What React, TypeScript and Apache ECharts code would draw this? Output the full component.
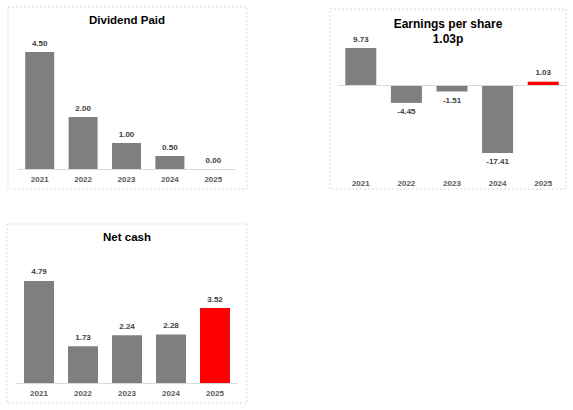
import React, { useEffect, useRef } from "react";
import * as echarts from "echarts";

const years = ["2021", "2022", "2023", "2024", "2025"];
const dividendPaid = [4.5, 2.0, 1.0, 0.5, 0.0];
const earningsPerShare = [9.73, -4.45, -1.51, -17.41, 1.03];
const netCash = [4.79, 1.73, 2.24, 2.28, 3.52];
const epsTitle = "Earnings per share\n1.03p";
const highlightYear = "2025";

const GREY = "#7f7f7f";
const RED = "#ff0000";
const FONT = "'Liberation Sans', Arial, sans-serif";

const barItems = (values: number[], highlight: boolean) =>
  values.map((v, i) => ({
    value: v,
    itemStyle: { color: highlight && years[i] === highlightYear ? RED : GREY },
    label: { position: v < 0 ? "bottom" : "top" },
  }));

const App: React.FC = () => {
  const chartRef = useRef<HTMLDivElement>(null);

  useEffect(() => {
    if (!chartRef.current) return;
    const chart = echarts.init(chartRef.current, undefined, { renderer: "svg" });

    const xAxisBase = (gridIndex: number, margin: number, showLine: boolean) => ({
      type: "category",
      gridIndex,
      data: years,
      axisTick: { show: false },
      axisLine: { show: showLine, lineStyle: { color: "#d9d9d9", width: 1 } },
      axisLabel: {
        color: "#595959",
        fontSize: 8,
        fontWeight: "bold",
        fontFamily: FONT,
        margin,
        interval: 0,
      },
    });

    const yAxisBase = (gridIndex: number, min: number, max: number) => ({
      type: "value",
      gridIndex,
      min,
      max,
      show: false,
      splitLine: { show: false },
    });

    const label = {
      show: true,
      distance: 5,
      color: "#404040",
      fontSize: 8,
      fontWeight: "bold",
      fontFamily: FONT,
      formatter: (p: any) => Number(p.value).toFixed(2),
    };

    const titleStyle = {
      color: "#000",
      fontSize: 12,
      fontWeight: "bold",
      fontFamily: FONT,
    };

    const option = {
      animation: false,
      backgroundColor: "#fff",
      title: [
        { text: "Dividend Paid", left: 127, top: 14, textAlign: "center", padding: 0, textStyle: { ...titleStyle, fontSize: 11.5 } },
        { text: epsTitle, left: 448, top: 16, textAlign: "center", padding: 0, textStyle: { ...titleStyle, lineHeight: 15 } },
        { text: "Net cash", left: 127, top: 231, textAlign: "center", padding: 0, textStyle: { ...titleStyle, fontSize: 11.5 } },
      ],
      graphic: [
        { type: "rect", shape: { x: 8, y: 7, width: 239, height: 182 }, style: { fill: "none", stroke: "#d9d9d9", lineDash: [2, 2] }, z: -1 },
        { type: "rect", shape: { x: 330, y: 9, width: 236, height: 180 }, style: { fill: "none", stroke: "#d9d9d9", lineDash: [2, 2] }, z: -1 },
        { type: "rect", shape: { x: 7, y: 224, width: 240, height: 179 }, style: { fill: "none", stroke: "#d9d9d9", lineDash: [2, 2] }, z: -1 },
      ],
      grid: [
        { left: 18, top: 39, width: 217, height: 130 },
        { left: 338, top: 47, width: 228, height: 116 },
        { left: 17, top: 276.5, width: 220, height: 106.5 },
      ],
      xAxis: [xAxisBase(0, 6, true), xAxisBase(1, 16, false), xAxisBase(2, 6, true)],
      yAxis: [yAxisBase(0, 0, 5), yAxisBase(1, -20, 10), yAxisBase(2, 0, 5)],
      series: [
        {
          type: "bar",
          xAxisIndex: 0,
          yAxisIndex: 0,
          barWidth: 29,
          data: barItems(dividendPaid, false),
          label,
        },
        {
          type: "bar",
          xAxisIndex: 1,
          yAxisIndex: 1,
          barWidth: 31,
          data: barItems(earningsPerShare, true),
          label,
          markLine: {
            silent: true,
            symbol: "none",
            label: { show: false },
            lineStyle: { color: "#d9d9d9", type: "solid", width: 1 },
            data: [{ yAxis: 0 }],
          },
        },
        {
          type: "bar",
          xAxisIndex: 2,
          yAxisIndex: 2,
          barWidth: 30,
          data: barItems(netCash, true),
          label,
        },
      ],
    };

    chart.setOption(option as any);
    return () => {
      chart.dispose();
    };
  }, []);

  return (
    <div
      ref={chartRef}
      style={{ position: "fixed", left: 0, top: 0, width: 573, height: 410 }}
    />
  );
};

export default App;
